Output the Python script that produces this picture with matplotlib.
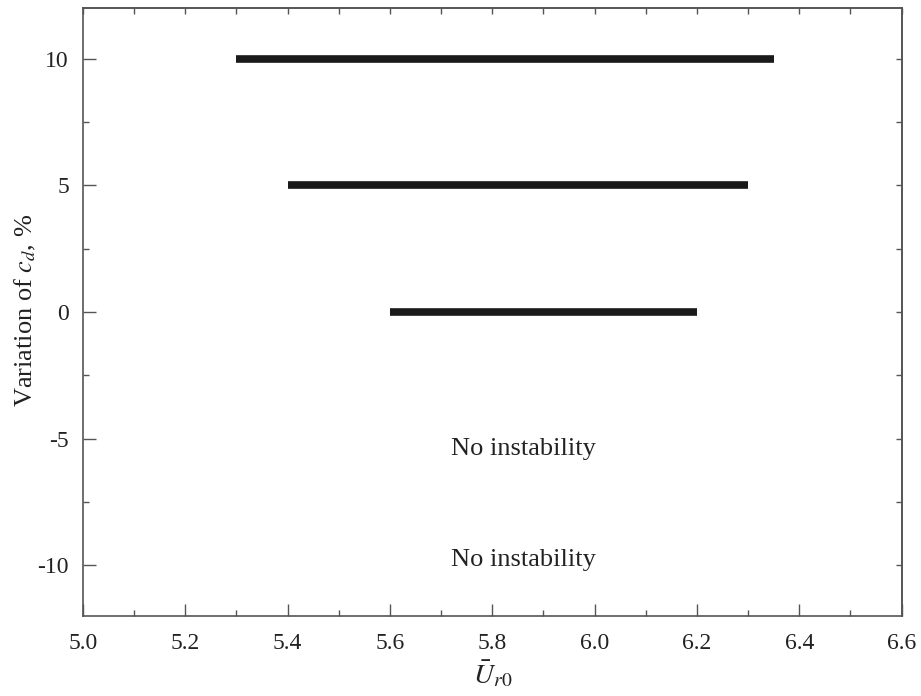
import matplotlib
matplotlib.use("Agg")
import matplotlib.pyplot as plt
import numpy as np
from matplotlib.ticker import MultipleLocator

# data
variation = [10, 5, 0]
u_start = [5.30, 5.40, 5.60]
u_end = [6.35, 6.30, 6.20]
note_text = ["No instability", "No instability"]
note_x = [5.86, 5.86]
note_y = [-5.4, -9.8]

plt.rcParams["font.family"] = ["Liberation Serif", "DejaVu Serif"]
plt.rcParams["mathtext.fontset"] = "stix"

fig = plt.figure(figsize=(9.21, 6.96), dpi=100)
ax = fig.add_axes([0.090, 0.115, 0.889, 0.8735])

for v, a, b in zip(variation, u_start, u_end):
    ax.plot([a, b], [v, v], color="#1a1a1a", linewidth=5.5, solid_capstyle="butt")

for t, x, y in zip(note_text, note_x, note_y):
    ax.text(x, y, t, ha="center", va="center", fontsize=19, color="#222222")

ax.set_xlim(5.0, 6.6)
ax.set_ylim(-12, 12)
ax.set_xticks([5.0, 5.2, 5.4, 5.6, 5.8, 6.0, 6.2, 6.4, 6.6])
ax.set_xticklabels(["5.0", "5.2", "5.4", "5.6", "5.8", "6.0", "6.2", "6.4", "6.6"])
ax.set_yticks([-10, -5, 0, 5, 10])
ax.set_yticklabels(["-10", "-5", "0", "5", "10"])
ax.xaxis.set_minor_locator(MultipleLocator(0.1))
ax.yaxis.set_minor_locator(MultipleLocator(2.5))

ax.tick_params(which="both", direction="in", color="#555555", labelsize=17,
               labelcolor="#222222", top=False, right=False)
ax.tick_params(which="major", length=9, width=1)
ax.tick_params(which="minor", length=4.5, width=1)
ax.tick_params(axis="x", pad=12)
ax.tick_params(axis="y", pad=10)

# short ticks on the top and right edges
top = ax.secondary_xaxis("top")
top.set_xticks(np.arange(5.0, 6.61, 0.1))
top.tick_params(direction="in", length=4.5, width=1, color="#555555", labeltop=False)
right = ax.secondary_yaxis("right")
right.set_yticks(np.arange(-12.5, 12.6, 2.5))
right.tick_params(direction="in", length=4.5, width=1, color="#555555", labelright=False)

for s in list(ax.spines.values()) + [top.spines["top"], right.spines["right"]]:
    s.set_color("#555555")
    s.set_linewidth(1.2)

ax.set_xlabel(r"$\bar{U}_{r0}$", fontsize=20, color="#222222")
ax.xaxis.set_label_coords(0.5, -0.07)
ax.set_ylabel(r"Variation of $c_d$, %", fontsize=19, color="#222222")
ax.yaxis.set_label_coords(-0.055, 0.503)

fig.savefig("out.png", dpi=100)
